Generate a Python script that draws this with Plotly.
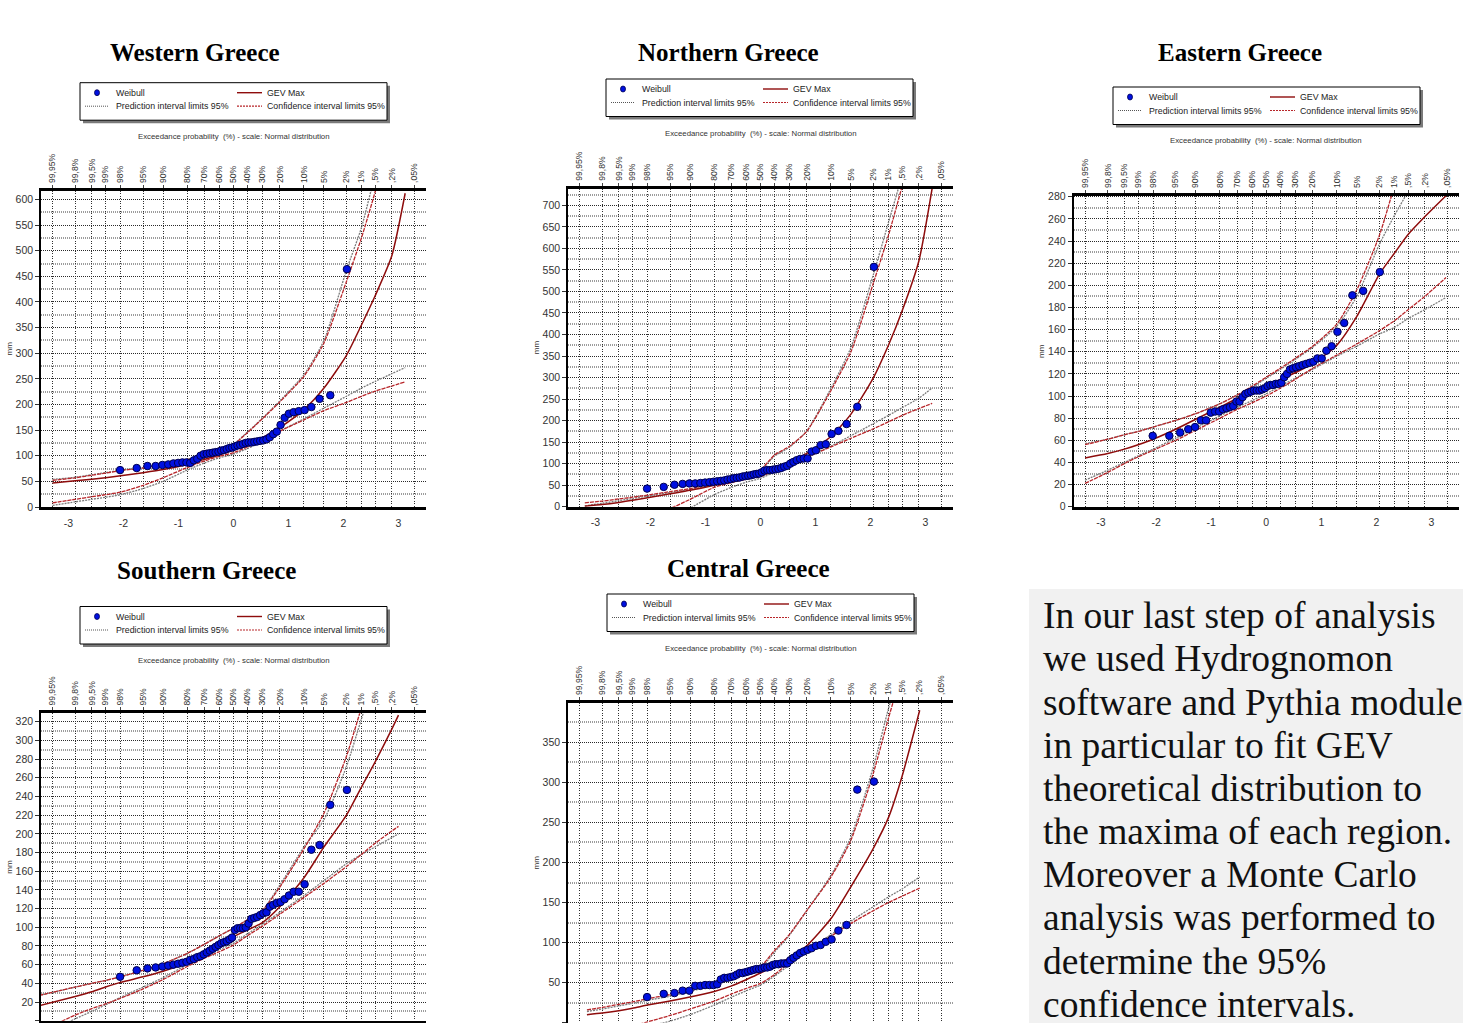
import plotly.graph_objects as go
from statistics import NormalDist

FIG_W, FIG_H = 1463, 1023
ND = NormalDist()

# ---------------- data ----------------
PROB_TICKS = [99.95, 99.8, 99.5, 99, 98, 95, 90, 80, 70, 60, 50, 40, 30, 20, 10, 5, 2, 1, 0.5, 0.2, 0.05]
PROB_LABELS = ["99,95%", "99,8%", "99,5%", "99%", "98%", "95%", "90%", "80%", "70%", "60%",
               "50%", "40%", "30%", "20%", "10%", "5%", "2%", "1%", ",5%", ",2%", ",05%"]
Z_TICKS = [-3, -2, -1, 0, 1, 2, 3]

# Weibull plotted maxima (mm), ascending
WEST_WEIBULL = [72, 76, 80, 80, 82, 83, 85, 86, 87, 87, 86, 91, 94, 100, 103, 104, 105, 106, 107, 108,
                110, 111, 113, 115, 116, 118, 120, 121, 123, 125, 126, 126, 127, 128, 129, 130, 132, 136, 142, 147,
                160, 174, 182, 185, 187, 189, 195, 211, 218, 464]
NORTH_WEIBULL = [42, 46, 51, 53, 54, 54, 55, 56, 57, 58, 59, 60, 61, 63, 64, 66, 67, 68, 70, 71,
                 72, 73, 75, 76, 77, 80, 84, 85, 85, 86, 87, 88, 90, 93, 95, 100, 104, 108, 111, 112,
                 112, 128, 131, 143, 145, 169, 176, 192, 232, 557]
EAST_WEIBULL = [64, 64, 67, 70, 72, 78, 78, 85, 86, 86, 88, 89, 90, 91, 95, 95, 99, 102, 103, 104,
                105, 105, 105, 106, 107, 109, 110, 110, 111, 111, 112, 117, 120, 124, 125, 126, 127, 128, 129, 130,
                131, 134, 134, 141, 145, 158, 166, 191, 195, 212]
SOUTH_WEIBULL = [47, 54, 56, 57, 58, 59, 60, 61, 62, 63, 65, 66, 68, 69, 71, 73, 75, 77, 79, 81,
                 83, 84, 85, 87, 89, 97, 99, 99, 99, 100, 104, 109, 110, 111, 113, 115, 116, 122, 124, 126,
                 127, 130, 134, 138, 138, 146, 183, 188, 231, 247]
CENTRAL_WEIBULL = [32, 36, 37, 40, 40, 46, 46, 47, 47, 47, 48, 54, 56, 56, 57, 58, 60, 62, 62, 63,
                   64, 65, 66, 67, 67, 68, 69, 69, 70, 72, 73, 73, 74, 74, 74, 78, 81, 84, 87, 89,
                   91, 93, 96, 97, 101, 104, 115, 122, 291, 301]

# Curves: exceedance probabilities (%) at which curve values were read
WEST_CURVE_P = [99.95, 99.8, 99.5, 99, 98, 95, 90, 80, 70, 60, 50, 40, 30, 20, 10, 5, 2, 1, 0.5, 0.2, 0.09]
WEST_GEV = [47, 51, 54, 57, 61, 67, 73, 83, 93, 102, 112, 122, 135, 155, 190, 232, 296, 355, 412, 490, 612]
WEST_CONF_UP = [52, 57, 62, 66, 71, 76, 82, 92, 102, 111, 122, 145, 172, 205, 255, 320, 440, 525, 615, 740, 850]
WEST_PRED_UP = [54, 58, 63, 67, 72, 77, 83, 93, 103, 112, 123, 146, 173, 207, 258, 325, 462, 545, 650, 780, 900]
WEST_CONF_LO = [8, 15, 20, 24, 29, 42, 57, 77, 90, 99, 106, 117, 130, 148, 170, 188, 204, 216, 226, 236, 244]
WEST_PRED_LO = [3, 10, 15, 19, 24, 36, 50, 72, 86, 96, 103, 114, 128, 148, 172, 193, 216, 232, 245, 260, 272]

NORTH_CURVE_P = [99.93, 99.8, 99.5, 99, 98, 95, 90, 80, 70, 60, 50, 40, 30, 20, 10, 5, 2, 1, 0.5, 0.2, 0.09]
NORTH_GEV = [1, 5, 10, 15, 21, 30, 38, 50, 61, 71, 80, 90, 104, 124, 163, 215, 300, 375, 455, 570, 740]
NORTH_CONF_UP = [9, 13, 18, 22, 27, 35, 42, 54, 65, 75, 86, 120, 140, 175, 270, 360, 520, 630, 745, 900, 1050]
NORTH_PRED_UP = [2, 8, 14, 19, 25, 33, 40, 52, 63, 73, 84, 117, 138, 176, 275, 370, 540, 660, 770, 920, 1080]
NORTH_CONF_LO = [-55, -45, -35, -25, -16, -4, 17, 45, 56, 64, 70, 84, 98, 115, 139, 159, 181, 197, 212, 228, 240]
NORTH_PRED_LO = [-95, -75, -60, -45, -35, -20, -3, 28, 45, 57, 66, 80, 96, 115, 141, 165, 193, 212, 230, 252, 276]

EAST_CURVE_P = [99.95, 99.8, 99.5, 99, 98, 95, 90, 80, 70, 60, 50, 40, 30, 20, 10, 5, 2, 1, 0.5, 0.2, 0.055]
EAST_GEV = [44, 48, 52, 56, 61, 70, 79, 90, 98, 104, 109, 115, 121, 129, 146, 172, 210, 229, 246, 262, 281]
EAST_CONF_UP = [56, 61, 65, 68, 72, 78, 84, 93, 101, 109, 117, 125, 134, 145, 165, 196, 245, 290, 335, 390, 460]
EAST_PRED_UP = [57, 61, 65, 68, 72, 78, 84, 93, 101, 108, 116, 124, 133, 144, 163, 190, 237, 263, 285, 315, 355]
EAST_CONF_LO = [21, 31, 39, 45, 51, 60, 69, 80, 88, 94, 100, 107, 115, 125, 137, 147, 159, 168, 178, 190, 207]
EAST_PRED_LO = [24, 33, 40, 46, 52, 62, 71, 82, 90, 96, 102, 109, 116, 124, 136, 145, 156, 162, 170, 178, 189]

SOUTH_CURVE_P = [99.98, 99.8, 99.5, 99, 98, 95, 90, 80, 70, 60, 50, 40, 30, 20, 10, 5, 2, 1, 0.5, 0.2, 0.135]
SOUTH_GEV = [16, 26, 31, 36, 41, 47, 53, 62, 72, 81, 90, 97, 105, 122, 153, 186, 220, 250, 277, 312, 327]
SOUTH_CONF_UP = [27, 36, 40, 43, 47, 54, 61, 72, 82, 91, 99, 108, 118, 143, 184, 222, 283, 335, 380, 440, 465]
SOUTH_PRED_UP = [27, 36, 40, 43, 47, 54, 61, 72, 82, 91, 99, 108, 118, 145, 186, 215, 272, 323, 370, 430, 455]
SOUTH_CONF_LO = [-12, 6, 13, 18, 24, 34, 44, 58, 67, 74, 81, 91, 101, 114, 132, 147, 165, 178, 190, 203, 208]
SOUTH_PRED_LO = [-18, 2, 10, 17, 25, 36, 46, 60, 69, 76, 83, 93, 103, 116, 134, 150, 168, 178, 186, 196, 200]

CENTRAL_CURVE_P = [99.92, 99.8, 99.5, 99, 98, 95, 90, 80, 70, 60, 50, 40, 30, 20, 10, 5, 2, 1, 0.5, 0.19]
CENTRAL_GEV = [10, 12, 15, 18, 22, 27, 32, 39, 46, 54, 62, 71, 81, 96, 130, 170, 218, 256, 308, 390]
CENTRAL_CONF_UP = [16, 19, 23, 26, 30, 35, 41, 49, 56, 63, 70, 90, 110, 140, 182, 228, 312, 380, 440, 530]
CENTRAL_PRED_UP = [14, 17, 21, 24, 28, 33, 39, 47, 54, 61, 68, 88, 109, 140, 184, 232, 320, 392, 450, 540]
CENTRAL_CONF_LO = [-22, -15, -9, -4, 1, 9, 17, 27, 36, 43, 49, 60, 75, 89, 108, 124, 140, 150, 158, 168]
CENTRAL_PRED_LO = [-36, -28, -19, -11, -5, 2, 10, 22, 32, 40, 47, 58, 72, 88, 110, 127, 145, 157, 167, 182]

PARAGRAPH = ["In our last step of analysis",
             "we used Hydrognomon",
             "software and Pythia module",
             "in particular to fit GEV",
             "theoretical distribution to",
             "the maxima of each region.",
             "Moreover a Monte Carlo",
             "analysis was performed to",
             "determine the 95%",
             "confidence intervals."]

# ---------------- layout description (pixels) ----------------
PANELS = [
    dict(title="Western Greece", x0=41, x1=426, top=190.7, bottom=507, ymax=617, dtick=50, minor=25,
         tpos=(195, 53), leg=(80, 82.7), exc_y=136, xlabels=True, pts=WEST_WEIBULL, cp=WEST_CURVE_P,
         gev=WEST_GEV, cu=WEST_CONF_UP, cl=WEST_CONF_LO, pu=WEST_PRED_UP, pl=WEST_PRED_LO),
    dict(title="Northern Greece", x0=568, x1=953, top=188.5, bottom=506.7, ymax=739, dtick=50, minor=25,
         tpos=(728, 53), leg=(606, 79), exc_y=133, xlabels=True, pts=NORTH_WEIBULL, cp=NORTH_CURVE_P,
         gev=NORTH_GEV, cu=NORTH_CONF_UP, cl=NORTH_CONF_LO, pu=NORTH_PRED_UP, pl=NORTH_PRED_LO),
    dict(title="Eastern Greece", x0=1073.5, x1=1459, top=195.7, bottom=506.7, ymax=281, dtick=20, minor=10,
         tpos=(1240, 53), leg=(1113, 87), exc_y=140.5, xlabels=True, pts=EAST_WEIBULL, cp=EAST_CURVE_P,
         gev=EAST_GEV, cu=EAST_CONF_UP, cl=EAST_CONF_LO, pu=EAST_PRED_UP, pl=EAST_PRED_LO),
    dict(title="Southern Greece", x0=41, x1=426, top=713.3, bottom=1020.7, ymax=329, dtick=20, minor=10,
         tpos=(206, 570), leg=(80, 606.5), exc_y=660, xlabels=False, pts=SOUTH_WEIBULL, cp=SOUTH_CURVE_P,
         gev=SOUTH_GEV, cu=SOUTH_CONF_UP, cl=SOUTH_CONF_LO, pu=SOUTH_PRED_UP, pl=SOUTH_PRED_LO),
    dict(title="Central Greece", x0=568, x1=953, top=702.7, bottom=1022.7, ymax=399.5, dtick=50, minor=25,
         tpos=(748, 568), leg=(607, 594), exc_y=648.3, xlabels=False, pts=CENTRAL_WEIBULL, cp=CENTRAL_CURVE_P,
         gev=CENTRAL_GEV, cu=CENTRAL_CONF_UP, cl=CENTRAL_CONF_LO, pu=CENTRAL_PRED_UP, pl=CENTRAL_PRED_LO),
]

SANS = "Liberation Sans, Arial, sans-serif"
SERIF = "Liberation Serif, DejaVu Serif, serif"
GEV_COLOR = "#8e0c0c"
CONF_COLOR = "#b8262a"
PRED_COLOR = "#7c7c7c"
DOT_FILL = "#0010e0"
DOT_LINE = "#000050"
TXT = "#333333"


def fx(px):
    return px / FIG_W


def fy(py):
    return 1 - py / FIG_H


def z_of(p):
    return ND.inv_cdf(1 - p / 100.0)


fig = go.Figure()
shapes, annotations = [], []
layout_axes = {}

for k, P in enumerate(PANELS, start=1):
    xid = "x" if k == 1 else f"x{k}"
    yid = "y" if k == 1 else f"y{k}"
    xtop = f"x{k + 5}"
    cz = [z_of(p) for p in P["cp"]]
    n = len(P["pts"])
    wz = [ND.inv_cdf(i / (n + 1)) for i in range(1, n + 1)]

    for ys, col, dash, w in [(P["pl"], PRED_COLOR, "2px,1px", 1.3), (P["pu"], PRED_COLOR, "2px,1px", 1.3),
                             (P["cl"], CONF_COLOR, "4px,1px", 1.3), (P["cu"], CONF_COLOR, "4px,1px", 1.3),
                             (P["gev"], GEV_COLOR, "solid", 1.5)]:
        fig.add_trace(go.Scatter(x=cz, y=ys, mode="lines", xaxis=xid, yaxis=yid,
                                 line=dict(color=col, width=w, dash=dash, shape="spline", smoothing=0.6),
                                 showlegend=False, hoverinfo="skip"))
    fig.add_trace(go.Scatter(x=wz, y=P["pts"], mode="markers", xaxis=xid, yaxis=yid,
                             marker=dict(size=7.5, color=DOT_FILL, line=dict(color=DOT_LINE, width=1)),
                             showlegend=False, hoverinfo="skip", cliponaxis=True))
    # empty trace so the top probability axis is drawn
    fig.add_trace(go.Scatter(x=[], y=[], xaxis=xtop, yaxis=yid, showlegend=False, hoverinfo="skip"))

    dom_x = [fx(P["x0"]), fx(P["x1"])]
    dom_y = [fy(P["bottom"]), fy(P["top"])]
    layout_axes["xaxis" if k == 1 else f"xaxis{k}"] = dict(
        domain=dom_x, range=[-3.5, 3.5], anchor=yid, tickvals=Z_TICKS, ticktext=[str(v) for v in Z_TICKS],
        showticklabels=P["xlabels"],
        showgrid=False, zeroline=False, showline=True, linecolor="black", linewidth=3,
        ticks="", ticklabelstandoff=4, tickfont=dict(family=SANS, size=10.5, color=TXT),
        automargin=False, fixedrange=True)
    layout_axes[f"xaxis{k + 5}"] = dict(
        overlaying=xid, side="top", anchor=yid, range=[-3.5, 3.5],
        tickvals=[z_of(p) for p in PROB_TICKS], ticktext=PROB_LABELS, tickangle=-90,
        showgrid=True, gridcolor="#303030", gridwidth=1, griddash="1px,1.5px", zeroline=False,
        showline=True, linecolor="black", linewidth=3, ticks="outside", ticklen=3, tickcolor="#444",
        tickfont=dict(family=SANS, size=8.6, color=TXT), automargin=False, fixedrange=True)
    layout_axes["yaxis" if k == 1 else f"yaxis{k}"] = dict(
        domain=dom_y, range=[0, P["ymax"]], anchor=xid, tick0=0, dtick=P["dtick"],
        showgrid=True, gridcolor="#2a2a2a", gridwidth=1, griddash="1px,1px", zeroline=False,
        minor=dict(tick0=0, dtick=P["minor"], showgrid=True, gridcolor="#9c9c9c", gridwidth=1.8, ticks=""),
        showline=True, linecolor="black", linewidth=1.5, ticks="outside", ticklen=4, tickcolor="#333",
        tickfont=dict(family=SANS, size=10.5, color=TXT),
        title=dict(text="mm", font=dict(family=SANS, size=8, color=TXT), standoff=2),
        automargin=False, fixedrange=True)

    # title
    annotations.append(dict(x=fx(P["tpos"][0]), y=fy(P["tpos"][1]), xref="paper", yref="paper",
                            text=f"<b>{P['title']}</b>", showarrow=False, xanchor="center", yanchor="middle",
                            font=dict(family=SERIF, size=25, color="black")))
    # probability-axis caption
    annotations.append(dict(x=fx((P["x0"] + P["x1"]) / 2), y=fy(P["exc_y"]), xref="paper", yref="paper",
                            text="Exceedance probability  (%) - scale: Normal distribution", showarrow=False,
                            xanchor="center", yanchor="middle", font=dict(family=SANS, size=7.8, color=TXT)))

    # legend box
    bx, by = P["leg"]
    bw, bh = 307, 37.5
    shapes.append(dict(type="rect", xref="paper", yref="paper", x0=fx(bx + 3), x1=fx(bx + bw + 3),
                       y0=fy(by + bh + 3), y1=fy(by + 3), fillcolor="#7a7a7a", line=dict(width=0)))
    shapes.append(dict(type="rect", xref="paper", yref="paper", x0=fx(bx), x1=fx(bx + bw),
                       y0=fy(by + bh), y1=fy(by), fillcolor="white", line=dict(color="black", width=1)))
    r1, r2 = by + 10, by + 23.5
    shapes.append(dict(type="circle", xref="paper", yref="paper", x0=fx(bx + 14.5), x1=fx(bx + 19.5),
                       y0=fy(r1 + 3), y1=fy(r1 - 3), fillcolor=DOT_FILL, line=dict(color=DOT_LINE, width=0.8)))
    shapes.append(dict(type="line", xref="paper", yref="paper", x0=fx(bx + 157), x1=fx(bx + 182),
                       y0=fy(r1), y1=fy(r1), line=dict(color=GEV_COLOR, width=1.4)))
    shapes.append(dict(type="line", xref="paper", yref="paper", x0=fx(bx + 5), x1=fx(bx + 29),
                       y0=fy(r2), y1=fy(r2), line=dict(color="#555", width=1, dash="1px,1px")))
    shapes.append(dict(type="line", xref="paper", yref="paper", x0=fx(bx + 157), x1=fx(bx + 182),
                       y0=fy(r2), y1=fy(r2), line=dict(color=CONF_COLOR, width=1.2, dash="2px,1px")))
    for tx, ty, txt in [(bx + 34, r1, "Weibull"), (bx + 185, r1, "GEV Max"),
                        (bx + 34, r2, "Prediction interval limits 95%"),
                        (bx + 185, r2, "Confidence interval limits 95%")]:
        annotations.append(dict(x=fx(tx), y=fy(ty), xref="paper", yref="paper", text=txt, showarrow=False,
                                xanchor="left", yanchor="middle",
                                font=dict(family=SANS, size=8.8, color="#222")))

# text panel
shapes.append(dict(type="rect", xref="paper", yref="paper", x0=fx(1029), x1=1.0, y0=0.0, y1=fy(589),
                   fillcolor="#f1f1f1", line=dict(width=0), layer="below"))
for i, line in enumerate(PARAGRAPH):
    base = 628.3 + 43.15 * i
    annotations.append(dict(x=fx(1041), y=fy(base - 12.5), xref="paper", yref="paper", text=line,
                            showarrow=False, xanchor="left", yanchor="middle",
                            font=dict(family=SERIF, size=37.5, color="#111")))

fig.update_layout(
    width=FIG_W, height=FIG_H, autosize=False,
    margin=dict(l=0, r=0, t=0, b=0, pad=0),
    paper_bgcolor="white", plot_bgcolor="white",
    showlegend=False, hovermode=False,
    shapes=shapes, annotations=annotations,
    **layout_axes,
)

fig.write_html("out.html", config={"displayModeBar": False})
